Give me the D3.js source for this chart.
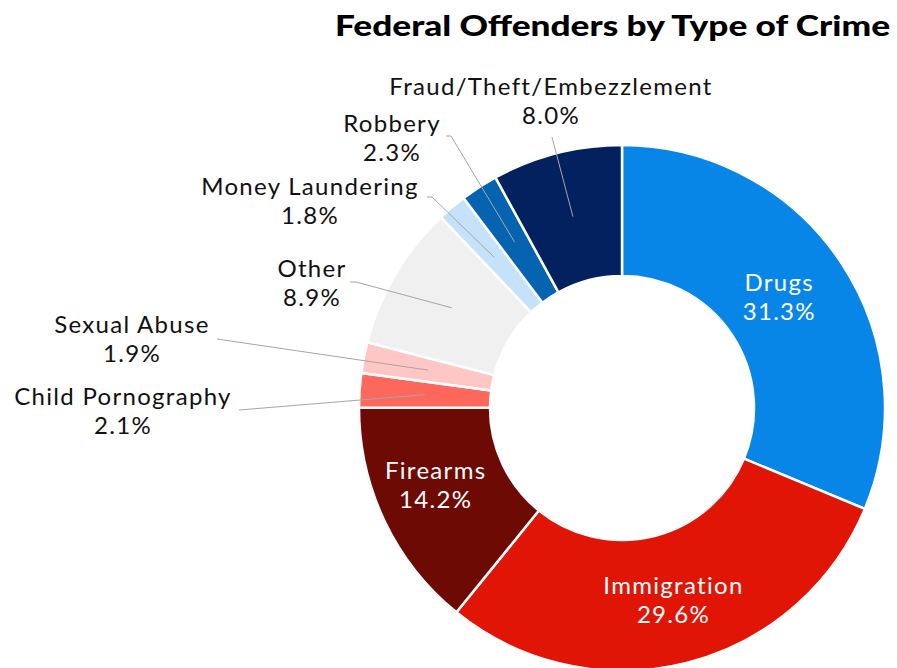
<!DOCTYPE html>
<html>
<head>
<meta charset="utf-8">
<script src="https://cdn.jsdelivr.net/npm/d3@7"></script>
<style>
  html, body { margin: 0; padding: 0; background: #fff; }
  svg { display: block; }
  text { font-family: "Lato", "DejaVu Sans", sans-serif; }
</style>
</head>
<body>
<svg id="chart" width="897" height="668"></svg>
<script>
// ---- data ----
const categories = ["Drugs", "Immigration", "Firearms", "Child Pornography", "Sexual Abuse",
  "Other", "Money Laundering", "Robbery", "Fraud/Theft/Embezzlement"];
const values = [31.3, 29.6, 14.2, 2.1, 1.9, 8.9, 1.8, 2.3, 8.0];
const colors = ["#0886e8", "#e01506", "#6d0a04", "#fd675c", "#fec7c5",
  "#f0f0f0", "#c6e2fb", "#0563b0", "#03215e"];
const insideLabels = ["Drugs", "Immigration", "Firearms"];

// ---- layout (outside label anchor positions) ----
const outsideLayout = {
  "Fraud/Theft/Embezzlement": { x: 551, y: 95, lx: 552, ly: 137, stub: 0 },
  "Robbery":                  { x: 392, y: 132, lx: 446, ly: 136, stub: 5 },
  "Money Laundering":         { x: 310, y: 195, lx: 427, ly: 197, stub: 5 },
  "Other":                    { x: 312, y: 277, lx: 350, ly: 282, stub: 6 },
  "Sexual Abuse":             { x: 132, y: 333, lx: 217, ly: 339, stub: 0 },
  "Child Pornography":        { x: 123, y: 405, lx: 239, ly: 410, stub: 0 }
};
const insideOffset = { "Drugs": -7, "Immigration": -5, "Firearms": -14 };
const insideDx = { "Drugs": -7, "Immigration": 3, "Firearms": -8 };

const svg = d3.select("#chart");
const cx = 622, cy = 408, rOuter = 263, rInner = 132;
const labelFont = { size: 24, weight: 400, spacing: "1.3px" };

svg.append("text")
  .attr("x", 890).attr("y", 36)
  .attr("text-anchor", "end")
  .attr("font-size", 28).attr("font-weight", 900)
  .attr("fill", "#000")
  .attr("textLength", 555).attr("lengthAdjust", "spacingAndGlyphs")
  .text("Federal Offenders by Type of Crime");

const data = categories.map((c, i) => ({ name: c, value: values[i], color: colors[i] }));
const pie = d3.pie().value(d => d.value).sort(null);
const arcs = pie(data);
const arc = d3.arc().innerRadius(rInner).outerRadius(rOuter);
const mid = d3.arc().innerRadius((rInner + rOuter) / 2).outerRadius((rInner + rOuter) / 2);

const g = svg.append("g").attr("transform", `translate(${cx},${cy})`);
g.selectAll("path.slice").data(arcs).join("path")
  .attr("class", "slice")
  .attr("d", arc)
  .attr("fill", d => d.data.color)
  .attr("stroke", "#fff").attr("stroke-width", 2.5).attr("stroke-linejoin", "round");

function addLabel(sel, x, y, a, fill) {
  const t = sel.append("text")
    .attr("text-anchor", "middle").attr("fill", fill)
    .attr("font-size", labelFont.size).attr("font-weight", labelFont.weight)
    .style("letter-spacing", labelFont.spacing);
  t.append("tspan").attr("x", x).attr("y", y).text(a.data.name);
  t.append("tspan").attr("x", x).attr("y", y + 29).text(a.data.value.toFixed(1) + "%");
}

// inside labels
arcs.filter(a => insideLabels.includes(a.data.name)).forEach(a => {
  const [x, y] = mid.centroid(a);
  addLabel(g, x + insideDx[a.data.name], y + insideOffset[a.data.name], a, "#fff");
});

// outside labels with leader lines
arcs.filter(a => outsideLayout[a.data.name]).forEach(a => {
  const L = outsideLayout[a.data.name];
  const [ex, ey] = mid.centroid(a);
  const pts = [[L.lx, L.ly], [L.lx + L.stub, L.ly], [cx + ex, cy + ey]];
  svg.append("path")
    .attr("d", d3.line()(pts))
    .attr("fill", "none").attr("stroke", "#a6a6a6").attr("stroke-width", 1);
  addLabel(svg, L.x, L.y, a, "#111");
});
</script>
</body>
</html>
